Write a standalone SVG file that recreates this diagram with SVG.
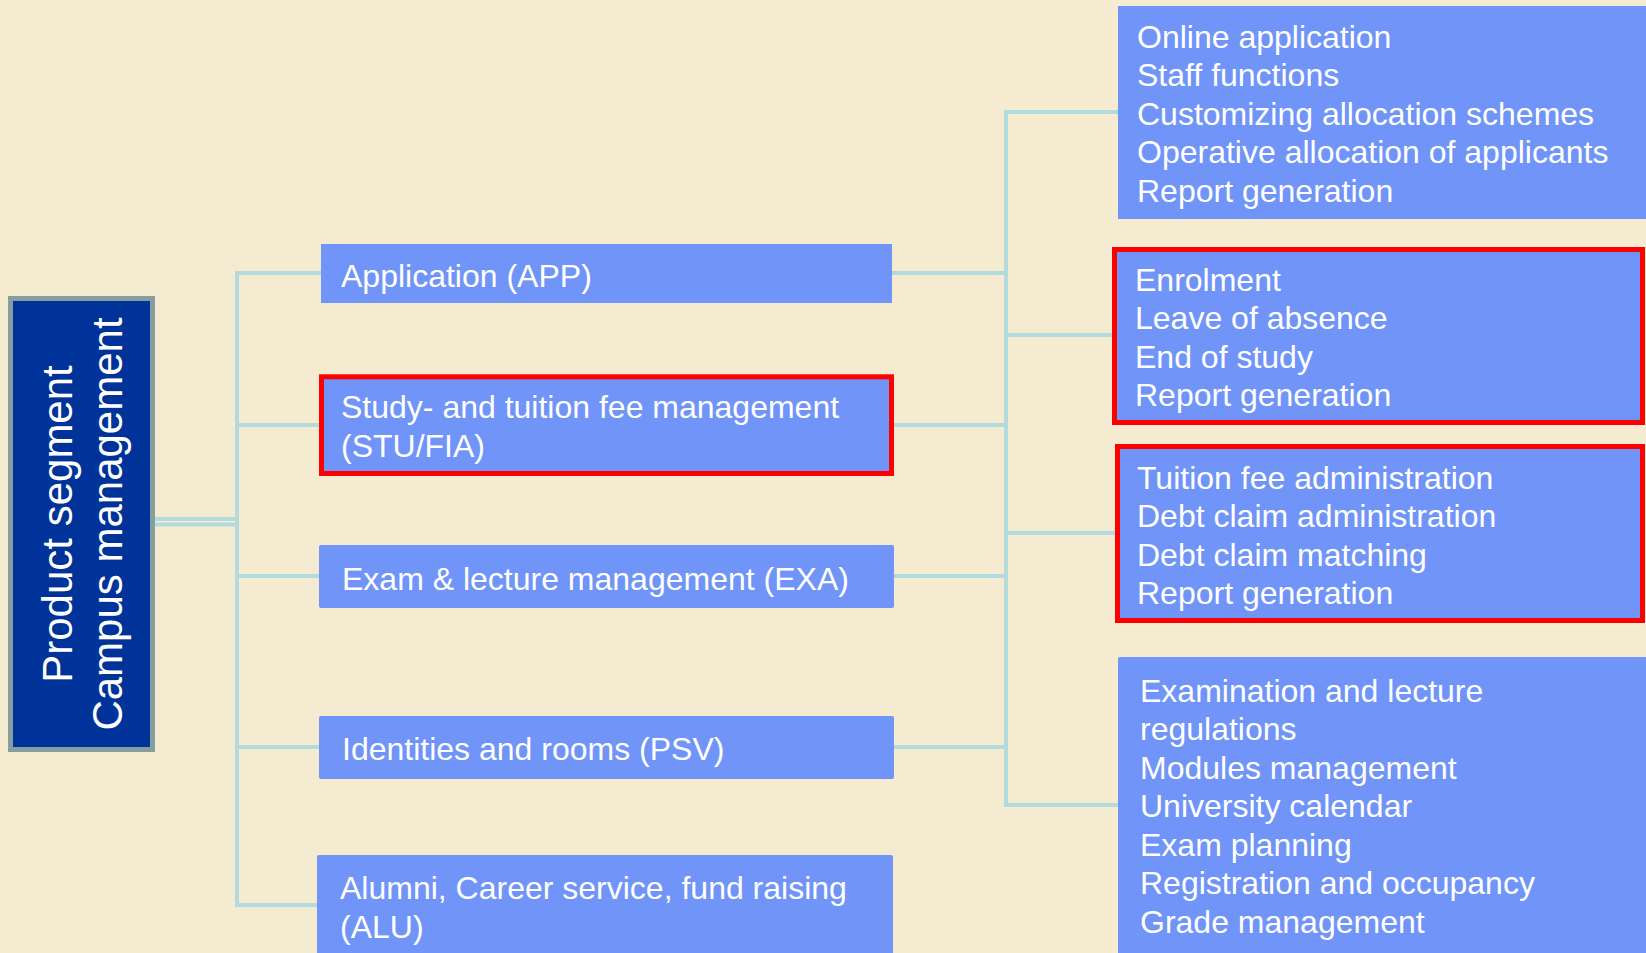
<svg xmlns="http://www.w3.org/2000/svg" width="1646" height="953" viewBox="0 0 1646 953">
<style>
.t{font-family:"Liberation Sans",Arial,sans-serif;font-size:32px;fill:#ffffff}
.rt{font-family:"Liberation Sans",Arial,sans-serif;font-size:42px;fill:#ffffff}
.box{fill:#7094f7}
.hl{fill:#7094f7;stroke:#ff0000;stroke-width:5}
.c{stroke:#b3dbde;stroke-width:4;fill:none}
</style>
<rect x="0" y="0" width="1646" height="953" fill="#f5ebd1"/>
<g id="connectors">
<line class="c" x1="155" y1="519" x2="237" y2="519" stroke-width="3"/>
<line class="c" x1="155" y1="524.5" x2="237" y2="524.5" stroke-width="5"/>
<line class="c" x1="237" y1="271" x2="237" y2="907"/>
<line class="c" x1="235" y1="273" x2="321" y2="273"/>
<line class="c" x1="235" y1="425" x2="321" y2="425"/>
<line class="c" x1="235" y1="576" x2="319" y2="576"/>
<line class="c" x1="235" y1="747" x2="319" y2="747"/>
<line class="c" x1="235" y1="905" x2="317" y2="905"/>
<line class="c" x1="1006" y1="110" x2="1006" y2="807"/>
<line class="c" x1="892" y1="273" x2="1008" y2="273"/>
<line class="c" x1="894" y1="425" x2="1008" y2="425"/>
<line class="c" x1="894" y1="576" x2="1008" y2="576"/>
<line class="c" x1="894" y1="747" x2="1008" y2="747"/>
<line class="c" x1="1004" y1="112" x2="1118" y2="112"/>
<line class="c" x1="1004" y1="335" x2="1114" y2="335"/>
<line class="c" x1="1004" y1="533" x2="1116" y2="533"/>
<line class="c" x1="1004" y1="805" x2="1118" y2="805"/>
</g>
<g id="root">
<rect x="10.5" y="298.5" width="142" height="451" fill="#003399" stroke="#879ea0" stroke-width="5"/>
<g transform="translate(72,524) rotate(-90)"><text class="rt" x="0" y="0" text-anchor="middle">Product segment</text></g>
<g transform="translate(122,524) rotate(-90)"><text class="rt" x="0" y="0" text-anchor="middle">Campus management</text></g>
</g>
<g id="app">
<rect class="box" x="321" y="244" width="571" height="59"/>
<text class="t" x="341" y="287">Application (APP)</text>
</g>
<g id="stu">
<rect class="hl" x="321.5" y="376.8" width="570" height="96.7"/>
<text class="t" x="341" y="418">Study- and tuition fee management</text>
<text class="t" x="341" y="457">(STU/FIA)</text>
</g>
<g id="exa">
<rect class="box" x="319" y="545" width="575" height="63" rx="2"/>
<text class="t" x="342" y="590">Exam &amp; lecture management (EXA)</text>
</g>
<g id="psv">
<rect class="box" x="319" y="716" width="575" height="63" rx="2"/>
<text class="t" x="342" y="760">Identities and rooms (PSV)</text>
</g>
<g id="alu">
<rect class="box" x="317" y="855" width="576" height="110" rx="2"/>
<text class="t" x="340" y="899">Alumni, Career service, fund raising</text>
<text class="t" x="340" y="938">(ALU)</text>
</g>
<g id="app-detail">
<rect class="box" x="1118" y="6" width="540" height="213"/>
<text class="t" x="1137" y="48">Online application</text>
<text class="t" x="1137" y="86">Staff functions</text>
<text class="t" x="1137" y="125">Customizing allocation schemes</text>
<text class="t" x="1137" y="163">Operative allocation of applicants</text>
<text class="t" x="1137" y="202">Report generation</text>
</g>
<g id="stu-detail">
<rect class="hl" x="1114.5" y="249.5" width="528" height="173"/>
<text class="t" x="1135" y="291">Enrolment</text>
<text class="t" x="1135" y="329">Leave of absence</text>
<text class="t" x="1135" y="368">End of study</text>
<text class="t" x="1135" y="406">Report generation</text>
</g>
<g id="fia-detail">
<rect class="hl" x="1117.5" y="446.5" width="525" height="174"/>
<text class="t" x="1137" y="489">Tuition fee administration</text>
<text class="t" x="1137" y="527">Debt claim administration</text>
<text class="t" x="1137" y="566">Debt claim matching</text>
<text class="t" x="1137" y="604">Report generation</text>
</g>
<g id="exa-detail">
<rect class="box" x="1118" y="657" width="540" height="310" rx="2"/>
<text class="t" x="1140" y="702">Examination and lecture</text>
<text class="t" x="1140" y="740">regulations</text>
<text class="t" x="1140" y="779">Modules management</text>
<text class="t" x="1140" y="817">University calendar</text>
<text class="t" x="1140" y="856">Exam planning</text>
<text class="t" x="1140" y="894">Registration and occupancy</text>
<text class="t" x="1140" y="933">Grade management</text>
</g>
</svg>
